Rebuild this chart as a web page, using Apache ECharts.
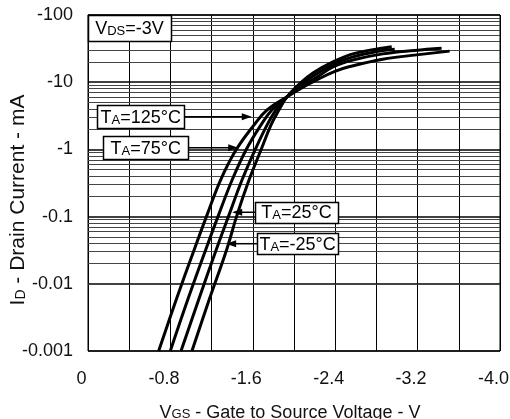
<!DOCTYPE html>
<html>
<head>
<meta charset="UTF-8">
<title>ID - VGS</title>
<style>
  * { margin: 0; padding: 0; }
  html, body { width: 100%; height: 100%; background: #fff; }
  #chart { width: 510px; height: 419px; }
</style>
</head>
<body>
<div id="chart"></div>
<script src="https://cdn.jsdelivr.net/npm/echarts@6/dist/echarts.min.js"></script>
<script>
// gate-source voltage (V) / drain current (mA)
const vgs125 = [-0.686, -0.857, -1.031, -1.157, -1.288, -1.438, -1.613, -1.739, -1.932, -2.058, -2.220, -2.397, -2.542, -2.862, -3.191, -3.511];
const id125  = [-0.001, -0.00582, -0.0322, -0.107, -0.353, -0.987, -2.32, -3.88, -6.05, -7.95, -10.8, -14.5, -17.1, -22.0, -25.5, -29.0];
const vgs75  = [-0.799, -0.969, -1.143, -1.269, -1.400, -1.535, -1.680, -1.787, -1.932, -2.058, -2.220, -2.378, -2.571, -2.862, -3.172, -3.433];
const id75   = [-0.001, -0.00582, -0.0322, -0.107, -0.353, -0.987, -2.32, -3.88, -6.05, -8.51, -11.8, -16.9, -21.4, -26.4, -29.7, -32.0];
const vgs25  = [-0.903, -1.075, -1.245, -1.370, -1.496, -1.622, -1.739, -1.826, -1.932, -2.058, -2.213, -2.378, -2.571, -2.833, -2.978];
const id25   = [-0.001, -0.00582, -0.0322, -0.107, -0.353, -0.987, -2.32, -3.88, -6.05, -8.96, -13.1, -18.4, -23.8, -29.2, -30.9];
const vgsM25 = [-1.009, -1.177, -1.346, -1.448, -1.564, -1.680, -1.777, -1.855, -1.932, -2.058, -2.184, -2.378, -2.571, -2.833, -2.949];
const idM25  = [-0.001, -0.00582, -0.0322, -0.107, -0.353, -0.987, -2.32, -3.88, -6.05, -9.60, -13.7, -20.0, -26.4, -31.8, -33.8];

const curveNames = ['125', '75', '25', '-25'];
const xTicks = ['0', '-0.8', '-1.6', '-2.4', '-3.2', '-4.0'];

const FONT = '"Liberation Sans", Arial, Helvetica, sans-serif';
const INK = '#111';

const chart = echarts.init(document.getElementById('chart'));

// current is negative (P-channel); the log axis runs on its magnitude
const toPts = (vs, is) => vs.map((v, i) => [v, -is[i]]);
const curves = [toPts(vgs125, id125), toPts(vgs75, id75), toPts(vgs25, id25), toPts(vgsM25, idM25)];

// 2..9 lines inside every decade
const minorLines = [];
for (let d = 0.001; d < 99; d *= 10) {
    for (let k = 2; k <= 9; k++) minorLines.push({ yAxis: +(d * k).toPrecision(3) });
}

const curveSeries = curves.map((pts, i) => ({
    name: curveNames[i],
    type: 'line',
    data: pts,
    showSymbol: false,
    smooth: 0.4,
    z: 5,
    lineStyle: { color: '#000', width: 3 },
    emphasis: { disabled: true }
}));

chart.setOption({
    animation: false,
    backgroundColor: '#fff',
    textStyle: { fontFamily: FONT },
    grid: {
        left: 88, right: 10, top: 15, bottom: 68,
        outerBoundsMode: 'none', containLabel: false,
        show: true, borderColor: '#000', borderWidth: 1
    },
    xAxis: {
        type: 'value',
        min: -4,
        max: 0,
        interval: 0.4,
        inverse: true,
        name: 'V{s|GS}{m| - Gate to Source Voltage - V}',
        nameLocation: 'middle',
        nameGap: 53,
        nameMoveOverlap: false,
        nameTextStyle: {
            color: INK, fontSize: 18, fontFamily: FONT, padding: [0, 8, 0, 0],
            rich: {
                s: { fontSize: 13, color: INK, fontFamily: FONT, verticalAlign: 'bottom', padding: [0, 0, 1, 0] },
                m: { fontSize: 18, color: INK, fontFamily: FONT, verticalAlign: 'bottom' }
            }
        },
        axisLine: { show: false },
        axisTick: { show: false },
        axisLabel: {
            color: INK,
            fontSize: 18,
            margin: 19,
            padding: [0, 13, 0, 0],
            showMinLabel: true,
            showMaxLabel: true,
            formatter: v => {
                const n = Math.round(Math.abs(v) * 10);
                return n % 8 === 0 ? xTicks[n / 8] : '';
            }
        },
        splitLine: { show: true, lineStyle: { color: '#000', width: 1 } }
    },
    yAxis: {
        type: 'log',
        logBase: 10,
        min: 0.001,
        max: 100,
        name: '{m|I}{s|D}{m| - Drain Current - mA}',
        nameLocation: 'middle',
        nameRotate: 90,
        nameGap: 59,
        nameMoveOverlap: false,
        nameTextStyle: {
            color: INK, fontSize: 21, fontFamily: FONT, padding: [0, 34, 0, 0],
            rich: {
                s: { fontSize: 14, color: INK, fontFamily: FONT, verticalAlign: 'bottom', padding: [0, 0, 1, 0] },
                m: { fontSize: 21, color: INK, fontFamily: FONT, verticalAlign: 'bottom' }
            }
        },
        axisLine: { show: false },
        axisTick: { show: false },
        axisLabel: {
            color: INK,
            fontSize: 18,
            margin: 15,
            formatter: v => '-' + (+v.toPrecision(3))
        },
        splitLine: { show: true, lineStyle: { color: '#000', width: 1.5 } }
    },
    series: [{
        type: 'line',
        data: [],
        z: 1,
        silent: true,
        markLine: {
            silent: true,
            symbol: ['none', 'none'],
            animation: false,
            label: { show: false },
            lineStyle: { color: '#444', width: 1, type: 'solid' },
            emphasis: { disabled: true },
            data: minorLines
        }
    }].concat(curveSeries)
});

// temperature callouts: box + arrow, anchored in data coordinates
const notes = [
    { t: '125', tip: [-1.59, 3.05], tail: [-0.935, 3.05], side: 'left', w: 87, h: 23 },
    { t: '75', tip: [-1.458, 1.06], tail: [-0.973, 1.06], side: 'left', w: 85, h: 23 },
    { t: '25', tip: [-1.40, 0.116], tail: [-1.622, 0.116], side: 'right', w: 83, h: 21 },
    { t: '-25', tip: [-1.341, 0.0395], tail: [-1.642, 0.0395], side: 'right', w: 81, h: 21 }
];

const richSub = { s: { fontSize: 13, fontFamily: FONT, fill: '#000', verticalAlign: 'bottom' } };
const px = p => chart.convertToPixel({ gridIndex: 0 }, p);
const graphics = [];

const boxText = (cx, cy, w, h, text) => {
    graphics.push({
        type: 'rect', z: 20,
        shape: { x: Math.round(cx - w / 2) + 0.5, y: Math.round(cy - h / 2) + 0.5, width: w, height: h },
        style: { fill: '#fff', stroke: '#000', lineWidth: 1.5 }
    });
    graphics.push({
        type: 'text', z: 21,
        style: {
            x: cx, y: cy + 1, text: text, fill: '#000', fontSize: 18, fontFamily: FONT,
            align: 'center', verticalAlign: 'middle', rich: richSub
        }
    });
};

notes.forEach(n => {
    const a = px(n.tip);
    const b = px(n.tail);
    const dir = a[0] > b[0] ? 1 : -1;
    graphics.push({
        type: 'line', z: 19,
        shape: { x1: b[0], y1: b[1], x2: a[0] - dir * 6, y2: a[1] },
        style: { stroke: '#000', lineWidth: 1.5 }
    });
    graphics.push({
        type: 'polygon', z: 19,
        shape: { points: [[a[0], a[1]], [a[0] - dir * 10, a[1] - 3.5], [a[0] - dir * 10, a[1] + 3.5]] },
        style: { fill: '#000' }
    });
    const cx = n.side === 'left' ? b[0] - n.w / 2 : b[0] + n.w / 2;
    boxText(cx, b[1], n.w, n.h, 'T{s|A}=' + n.t + '°C');
});

// VDS condition box in the top-left corner of the plot
const corner = px([0, 100]);
boxText(corner[0] + 41.5, corner[1] + 13, 83, 26, 'V{s|DS}=-3V');

chart.setOption({ graphic: graphics });
</script>
</body>
</html>
